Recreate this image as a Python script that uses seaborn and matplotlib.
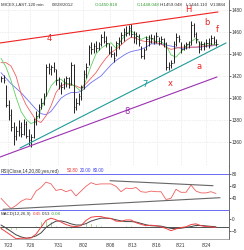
import numpy as np
import pandas as pd
import matplotlib
matplotlib.use("Agg")
import matplotlib.pyplot as plt
import seaborn as sns

# ---------------- data ----------------
high = [1420, 1421, 1412, 1398, 1390, 1378, 1375, 1380, 1378, 1381,
        1379, 1372, 1368, 1382, 1388, 1395, 1400, 1405, 1431, 1432,
        1430, 1433, 1426, 1419, 1415, 1418, 1420, 1419, 1433, 1431,
        1400, 1405, 1412, 1425, 1432, 1448, 1451, 1450, 1452, 1451,
        1458, 1461, 1456, 1450, 1447, 1442, 1452, 1455, 1460, 1463,
        1465, 1466, 1467, 1461, 1460, 1458, 1447, 1445, 1456, 1457,
        1458, 1457, 1460, 1455, 1456, 1454, 1451, 1433, 1434, 1452,
        1459, 1457, 1451, 1449, 1451, 1452, 1470, 1468, 1460, 1452,
        1452, 1451, 1453, 1454, 1457, 1456, 1453]
low = [1415, 1414, 1392, 1380, 1370, 1358, 1362, 1366, 1365, 1367,
       1364, 1358, 1356, 1364, 1376, 1382, 1390, 1394, 1402, 1422,
       1421, 1424, 1412, 1408, 1404, 1408, 1410, 1409, 1412, 1387,
       1389, 1394, 1398, 1408, 1418, 1430, 1440, 1441, 1442, 1443,
       1447, 1450, 1446, 1440, 1437, 1433, 1438, 1444, 1449, 1452,
       1456, 1457, 1455, 1450, 1449, 1447, 1436, 1435, 1443, 1447,
       1450, 1449, 1450, 1448, 1449, 1446, 1425, 1425, 1427, 1432,
       1447, 1451, 1441, 1443, 1444, 1445, 1448, 1455, 1450, 1441,
       1443, 1443, 1446, 1445, 1448, 1449, 1447]
close = [1418, 1416, 1394, 1385, 1374, 1366, 1370, 1374, 1368, 1377,
         1366, 1362, 1365, 1378, 1384, 1392, 1396, 1402, 1428, 1426,
         1428, 1426, 1416, 1412, 1410, 1415, 1418, 1412, 1430, 1392,
         1396, 1402, 1410, 1422, 1428, 1446, 1444, 1447, 1445, 1449,
         1455, 1452, 1450, 1442, 1440, 1436, 1450, 1452, 1457, 1460,
         1459, 1463, 1458, 1455, 1456, 1450, 1438, 1443, 1453, 1451,
         1454, 1452, 1456, 1450, 1453, 1450, 1428, 1430, 1432, 1449,
         1455, 1453, 1444, 1447, 1449, 1448, 1466, 1458, 1453, 1444,
         1449, 1447, 1450, 1448, 1454, 1451, 1449]

# moving averages, sampled every second bar
ma_blue = [1423, 1418, 1413, 1409, 1405, 1400, 1395, 1390, 1386, 1385,
           1388, 1394, 1400, 1403, 1405, 1405, 1406, 1410, 1414, 1417,
           1420, 1425, 1430, 1434, 1437, 1440, 1442, 1443, 1444, 1446,
           1449, 1449, 1449, 1448, 1447, 1446, 1445, 1445, 1446, 1446,
           1446, 1447, 1447, 1448]
ma_red = [1432, 1432, 1429, 1420, 1404, 1394, 1387, 1380, 1378, 1384,
          1393, 1405, 1411, 1413, 1412, 1411, 1409, 1413, 1418, 1423,
          1430, 1436, 1441, 1444, 1448, 1452, 1455, 1454, 1452, 1451,
          1451, 1450, 1449, 1446, 1444, 1445, 1446, 1446, 1446, 1446,
          1447, 1447, 1448, 1448]
ma_green = [1436, 1428, 1416, 1401, 1388, 1381, 1377, 1379, 1390, 1401,
            1411, 1416, 1417, 1413, 1413, 1410, 1406, 1416, 1429, 1440,
            1445, 1448, 1450, 1445, 1452, 1458, 1461, 1457, 1453, 1455,
            1454, 1451, 1451, 1448, 1439, 1437, 1442, 1446, 1451, 1454,
            1448, 1449, 1449, 1448]

rsi = [40, 31, 23, 28, 35, 39, 38, 52, 58, 67,
       64, 53, 55, 51, 54, 44, 52, 60, 66, 63,
       64, 64, 64, 60, 51, 57, 56, 58, 51, 50,
       52, 51, 51, 38, 40, 55, 50, 50, 62, 52,
       49, 49, 51, 48]

macd = [-4.0, -5.5, -7.0, -8.5, -8.3, -8.3, -8.2, -6.5, -3.5, -0.5,
        0.5, -0.2, -1.2, -2.3, -3.0, -3.2, -2.8, -0.5, 0.9, 1.2,
        1.2, 0.6, 0.4, -0.8, -0.9, -0.3, -0.3, -1.5, -2.2, -2.8,
        -2.6, -2.8, -3.3, -4.0, -5.0, -4.2, -3.6, -3.3, -2.3, -2.0,
        -2.8, -3.2, -3.3, -3.6]
signal = [-2.5, -3.8, -5.3, -6.8, -7.7, -8.3, -8.0, -7.3, -6.0, -3.6,
          -2.0, -0.8, -0.7, -1.2, -2.0, -2.5, -2.5, -1.9, -0.8, -0.1,
          0.5, 0.5, 0.3, -0.2, -0.7, -1.0, -1.0, -1.2, -1.8, -2.4,
          -2.8, -2.9, -3.0, -3.5, -4.0, -4.1, -3.9, -3.6, -3.2, -2.7,
          -2.7, -2.9, -3.1, -3.3]
macd_base = -3.2

date_labels = ["7/23", "7/26", "7/31", "8/02", "8/08", "8/13", "8/16", "8/21", "8/24"]
date_bar = [2.8, 11.6, 22.8, 32.8, 43.6, 52.8, 62.4, 72.0, 82.0]

# trend lines (bar index, value)
line4 = ([-0.4, 86.8], [1449.8, 1477.8])
line7 = ([7.6, 90.0], [1354.9, 1449.8])
line8 = ([-0.4, 86.4], [1346.8, 1419.1])
rsi_up = ([43.6, 84.8], [69.3, 61.0])
rsi_lo = ([0.8, 87.6], [21.7, 41.0])

annotations = [("4", 19.2, 1453.4, "#ee2222"), ("7", 57.6, 1411.9, "#1f9a9a"),
               ("8", 50.4, 1387.5, "#9b30b0"), ("H", 74.8, 1479.6, "#ee2222"),
               ("x", 67.6, 1412.8, "#ee2222"), ("a", 79.2, 1429.0, "#ee2222"),
               ("b", 82.4, 1467.9, "#ee2222"), ("f", 86.4, 1462.4, "#ee2222")]

# ---------------- figure ----------------
sns.set_theme(style="white")
plt.rcParams['font.family'] = ['Liberation Sans', 'DejaVu Sans']

W, H = 244, 250
SMALL = 3.2
fig = plt.figure(figsize=(W / 100, H / 100), dpi=100)
fig.patch.set_facecolor("white")
axw = 229 / W
ax1 = fig.add_axes([0, 1 - 166 / H, axw, 166 / H])
ax2 = fig.add_axes([0, 1 - 212 / H, axw, 46 / H])
ax3 = fig.add_axes([0, 1 - 239 / H, axw, 27 / H])

n = len(close)
idx = np.arange(n)
idx2 = idx[::2]
xlim = (-0.4, 91.2)

for ax in (ax1, ax2, ax3):
    ax.set_facecolor("white")
    ax.set_xlim(*xlim)
    ax.yaxis.tick_right()
    for s in ("left", "top", "bottom"):
        ax.spines[s].set_visible(False)
    ax.spines["right"].set_color("#555555")
    ax.spines["right"].set_linewidth(0.6)
    ax.tick_params(axis="y", labelsize=3.4, length=1.5, width=0.5, pad=0.5,
                   colors="#333333", direction="out")
    ax.tick_params(axis="x", length=0, labelbottom=False)

# main price panel
ax1.set_ylim(1338.7, 1488.6)
ax1.set_yticks([1360, 1380, 1400, 1420, 1440, 1460, 1480])
for v in [1360, 1380, 1400, 1420, 1440, 1460, 1480]:
    ax1.axhline(v, color="#cccccc", lw=0.4, ls=(0, (1, 2)), zorder=0)
for d in date_bar:
    ax1.axvline(d, color="#cccccc", lw=0.4, ls=(0, (1, 2)), zorder=0)

ax1.vlines(idx, low, high, color="#222222", lw=0.7, zorder=3)
ax1.hlines(close, idx, idx + 0.6, color="#222222", lw=0.5, zorder=3)

ma_df = pd.DataFrame({"x": idx2, "blue": ma_blue, "red": ma_red, "green": ma_green})
sns.lineplot(data=ma_df, x="x", y="blue", ax=ax1, color="#7070ee", lw=0.6, zorder=2)
sns.lineplot(data=ma_df, x="x", y="red", ax=ax1, color="#f06060", lw=0.6, zorder=2)
sns.lineplot(data=ma_df, x="x", y="green", ax=ax1, color="#60d060", lw=0.6, zorder=2)

ax1.plot(*line4, color="#ee2222", lw=0.8, zorder=4)
ax1.plot(*line7, color="#1f9a9a", lw=0.8, zorder=4)
ax1.plot(*line8, color="#9b30b0", lw=0.8, zorder=4)
for t, xx, yy, c in annotations:
    ax1.text(xx, yy, t, color=c, fontsize=6, ha="center", va="center",
             family=["DejaVu Sans"], zorder=5)
ax1.set_xlabel("")
ax1.set_ylabel("")

# title line
parts = [("MICEX,LAST-120 min", 1, "#333333"), ("08/28/2012", 52, "#333333"),
         ("O:1450.818", 95, "#2f9a2f"), ("C:1448.048", 137, "#2f9a2f"),
         ("H:1459.048", 160, "#333333"), ("L:1444.110", 186, "#333333"),
         ("V:13884", 210, "#333333")]
for t, px, c in parts:
    fig.text(px / W, 1 - 4.5 / H, t, color=c, fontsize=SMALL, ha="left", va="center")

# RSI panel
ax2.set_ylim(17.2, 93.8)
ax2.set_yticks([40, 60, 80])
ax2.axhline(80, color="#6a6af0", lw=0.7)
ax2.axhline(20, color="#6a6af0", lw=0.7)
rsi_df = pd.DataFrame({"x": idx2, "rsi": rsi})
sns.lineplot(data=rsi_df, x="x", y="rsi", ax=ax2, color="#f06060", lw=0.6)
ax2.plot(*rsi_up, color="#666666", lw=0.8)
ax2.plot(*rsi_lo, color="#666666", lw=0.8)
ax2.set_xlabel("")
ax2.set_ylabel("")
rsi_parts = [("RSI(Close,14,20,80,yes,red)", 1, "#333333"), ("50.80", 67, "#ee3333"),
             ("20.00", 80, "#4444ee"), ("80.00", 93, "#4444ee")]
for t, px, c in rsi_parts:
    fig.text(px / W, 1 - 171 / H, t, color=c, fontsize=3.3, ha="left", va="center")

# MACD panel
ax3.set_ylim(-8.64, 3.2)
ax3.set_yticks([0, -5])
ax3.axhline(macd_base, color="#333333", lw=0.6)
hist = np.array(macd) - np.array(signal)
ax3.bar(idx2, hist, bottom=macd_base, width=0.9, color="#6cc04a", zorder=1)
mdf = pd.DataFrame({"x": idx2, "macd": macd, "signal": signal})
sns.lineplot(data=mdf, x="x", y="signal", ax=ax3, color="#444444", lw=0.7, zorder=2)
sns.lineplot(data=mdf, x="x", y="macd", ax=ax3, color="#f04040", lw=0.7, zorder=3)
ax3.set_xlabel("")
ax3.set_ylabel("")
ax3.spines["bottom"].set_visible(True)
ax3.spines["bottom"].set_color("#888888")
ax3.spines["bottom"].set_linewidth(0.5)
ax3.set_xticks(date_bar)
ax3.set_xticklabels(date_labels)
ax3.tick_params(axis="x", labelbottom=True, labelsize=3.4, length=2, width=0.5,
                colors="#333333", pad=1, direction="out")
macd_parts = [("MACD(12,26,9)", 1, "#333333"), ("0.45", 33, "#ee3333"),
              ("0.53", 42, "#333333"), ("-0.08", 51, "#2f9a2f")]
for t, px, c in macd_parts:
    fig.text(px / W, 1 - 214 / H, t, color=c, fontsize=3.2, ha="left", va="center")

fig.savefig("out.png", dpi=100, facecolor="white")
